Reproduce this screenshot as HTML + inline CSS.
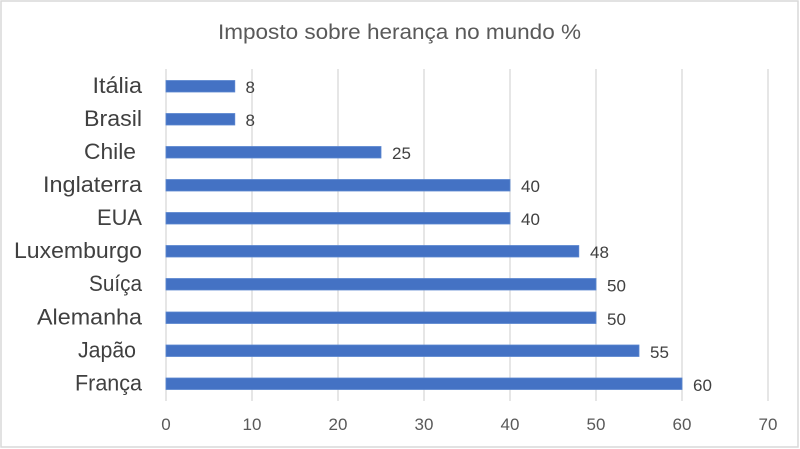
<!DOCTYPE html>
<html><head><meta charset="utf-8"><style>
html,body{margin:0;padding:0;background:#fff;}
svg{display:block;}
</style></head><body>
<svg width="800" height="449" viewBox="0 0 800 449" xmlns="http://www.w3.org/2000/svg" font-family="Liberation Sans, sans-serif">
<rect x="0" y="0" width="800" height="449" fill="#fff"/>
<rect x="1" y="1" width="797" height="446" fill="none" stroke="#d9d9d9" stroke-width="1.5"/>
<text x="218" y="39" font-size="21.5" fill="#595959" textLength="363" lengthAdjust="spacingAndGlyphs">Imposto sobre herança no mundo %</text>
<g stroke="#d9d9d9" stroke-width="1.3">
<line x1="166" y1="69" x2="166" y2="401"/>
<line x1="252" y1="69" x2="252" y2="401"/>
<line x1="338" y1="69" x2="338" y2="401"/>
<line x1="424" y1="69" x2="424" y2="401"/>
<line x1="510" y1="69" x2="510" y2="401"/>
<line x1="596" y1="69" x2="596" y2="401"/>
<line x1="682" y1="69" x2="682" y2="401"/>
<line x1="768" y1="69" x2="768" y2="401"/>
</g>
<g fill="#4472c4" stroke="#5b86d0" stroke-width="0.8">
<rect x="166" y="80.5" width="68.8" height="11.5"/>
<rect x="166" y="113.5" width="68.8" height="11.5"/>
<rect x="166" y="146.5" width="215" height="11.5"/>
<rect x="166" y="179.5" width="344" height="11.5"/>
<rect x="166" y="212.5" width="344" height="11.5"/>
<rect x="166" y="245.5" width="412.8" height="11.5"/>
<rect x="166" y="278.5" width="430" height="11.5"/>
<rect x="166" y="312" width="430" height="11.5"/>
<rect x="166" y="345" width="473" height="11.5"/>
<rect x="166" y="378" width="516" height="11.5"/>
</g>
<g font-size="22.5" fill="#404040" lengthAdjust="spacingAndGlyphs">
<text x="92.5" y="93" textLength="49.5" lengthAdjust="spacingAndGlyphs">Itália</text>
<text x="84" y="126" textLength="58" lengthAdjust="spacingAndGlyphs">Brasil</text>
<text x="84" y="159" textLength="52" lengthAdjust="spacingAndGlyphs">Chile</text>
<text x="43" y="192" textLength="99" lengthAdjust="spacingAndGlyphs">Inglaterra</text>
<text x="97" y="225" textLength="45" lengthAdjust="spacingAndGlyphs">EUA</text>
<text x="14" y="258" textLength="128" lengthAdjust="spacingAndGlyphs">Luxemburgo</text>
<text x="89" y="291" textLength="53" lengthAdjust="spacingAndGlyphs">Suíça</text>
<text x="37" y="324.5" textLength="105" lengthAdjust="spacingAndGlyphs">Alemanha</text>
<text x="78" y="357.5" textLength="58" lengthAdjust="spacingAndGlyphs">Japão</text>
<text x="75" y="390.5" textLength="67" lengthAdjust="spacingAndGlyphs">França</text>
</g>
<g font-size="17" fill="#404040">
<text x="245.5" y="93">8</text>
<text x="245.5" y="126">8</text>
<text x="392" y="159">25</text>
<text x="521" y="192">40</text>
<text x="521" y="225">40</text>
<text x="590" y="258">48</text>
<text x="607" y="291.5">50</text>
<text x="607" y="325">50</text>
<text x="650" y="358">55</text>
<text x="693" y="391">60</text>
</g>
<g font-size="17" fill="#595959" text-anchor="middle">
<text x="166" y="430">0</text>
<text x="252" y="430">10</text>
<text x="338" y="430">20</text>
<text x="424" y="430">30</text>
<text x="510" y="430">40</text>
<text x="596" y="430">50</text>
<text x="682" y="430">60</text>
<text x="768" y="430">70</text>
</g>
</svg>
</body></html>
